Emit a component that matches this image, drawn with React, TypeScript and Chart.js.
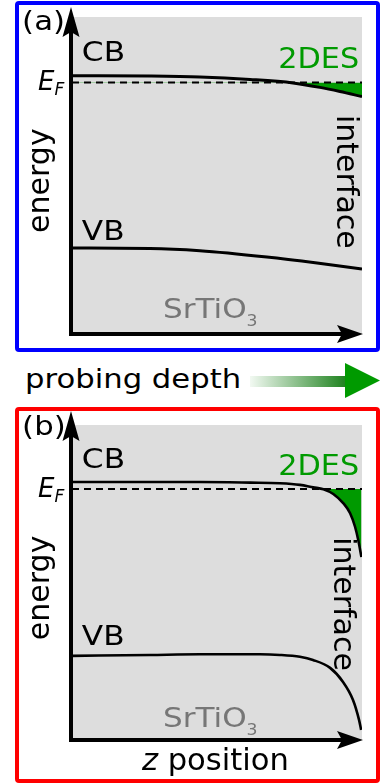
import React, { useEffect, useRef } from 'react';
import { Chart, registerables } from 'chart.js';

Chart.register(...registerables);

const FONT = '"DejaVu Sans", Verdana, sans-serif';
const GREEN = '#009a00';
const PLOT_BG = '#dddddd';
const AXIS_COLOR = '#000000';
const SUBSTRATE_COLOR = '#767676';

// ---------- data: panel (a) ----------
const zCbA = [0, 26.9, 44.1, 61.4, 76.2, 85.5, 92.4, 100];
const eCbA = [81.5, 81.4, 81.1, 80.3, 79.2, 77.8, 76.5, 74.9];
const zVbA = [0, 26.9, 44.1, 67.2, 84.5, 100];
const eVbA = [27.1, 27.0, 26.3, 24.3, 22.4, 20.5];
const eFermiA = 79.3;

// ---------- data: panel (b) ----------
const zCbB = [0, 44.1, 61.4, 71.7, 78.6, 83.2, 86.7, 90.1, 93.6, 95.9, 97.6, 98.7, 99.8];
const eCbB = [81.9, 81.9, 81.7, 81.5, 81.0, 80.2, 79.6, 78.1, 75.1, 72.0, 67.7, 63.5, 58.1];
const zVbB = [0, 26.9, 44.1, 64.8, 71.7, 78.6, 83.1, 89, 93.4, 96.9, 99, 99.7];
const eVbB = [26.7, 27.0, 27.2, 27.2, 27.0, 26.4, 25.4, 22.9, 18.5, 12.7, 6.3, 3.2];
const eFermiB = 79.7;

const zRange = [0, 100];
const eRange = [0, 100];

// ---------- text ----------
const panelTags = ['(a)', '(b)'];
const bandNames = ['CB', 'VB'];
const gasName = '2DES';
const substrate = ['SrTiO', '3'];
const interfaceText = 'interface';
const energyText = 'energy';
const depthText = 'probing depth';

type Run = { t: string; it?: boolean; sub?: boolean };
type Label = {
  runs: Run[]; u: number; v: number; size: number; sx?: number; color?: string;
  rot?: number; align?: 'left' | 'right'; subSize?: number; subDy?: number;
};

function labelsFor(tag: string, v: { tag: number; cb: number; ef: number; gas: number; vb: number; sub: number; intf: [number, number]; en: number }, extra: Label[] = []): Label[] {
  return [
    { runs: [{ t: tag }], u: -17.2, v: v.tag, size: 27, sx: 1.14 },
    { runs: [{ t: bandNames[0] }], u: 3.4, v: v.cb, size: 26, sx: 1.2 },
    { runs: [{ t: 'E', it: true }, { t: 'F', it: true, sub: true }], u: -11.7, v: v.ef, size: 26, subSize: 17, subDy: 5 },
    { runs: [{ t: gasName }], u: 99, v: v.gas, size: 28, sx: 1.08, color: GREEN, align: 'right' },
    { runs: [{ t: bandNames[1] }], u: 3.4, v: v.vb, size: 26, sx: 1.2 },
    { runs: [{ t: substrate[0] }, { t: substrate[1], sub: true }], u: 31.4, v: v.sub, size: 27, sx: 1.15, color: SUBSTRATE_COLOR, subSize: 15, subDy: 7.5 },
    { runs: [{ t: interfaceText }], u: v.intf[0], v: v.intf[1], size: 30, rot: 90 },
    { runs: [{ t: energyText }], u: -8.1, v: v.en, size: 30, rot: -90 },
    ...extra,
  ];
}

function drawLabel(chart: any, L: Label) {
  const { ctx } = chart;
  const px = chart.scales.x.getPixelForValue(L.u);
  const py = chart.scales.y.getPixelForValue(L.v);
  const font = (r: Run) => `${r.it ? 'italic ' : ''}${r.sub ? (L.subSize ?? L.size * 0.6) : L.size}px ${FONT}`;
  ctx.save();
  ctx.translate(px, py);
  if (L.rot) ctx.rotate((L.rot * Math.PI) / 180);
  ctx.scale(L.sx ?? 1, 1);
  ctx.fillStyle = L.color ?? '#000';
  ctx.textBaseline = 'alphabetic';
  ctx.textAlign = 'left';
  let total = 0;
  for (const r of L.runs) { ctx.font = font(r); total += ctx.measureText(r.t).width; }
  let x = L.align === 'right' ? -total : 0;
  for (const r of L.runs) {
    ctx.font = font(r);
    ctx.fillText(r.t, x, r.sub ? (L.subDy ?? 0) : 0);
    x += ctx.measureText(r.t).width;
  }
  ctx.restore();
}

function makeBandPlugin(labels: Label[], tipGap: number) {
  return {
    id: 'bandDiagram',
    beforeDraw(chart: any) {
      const { ctx, chartArea: a } = chart;
      ctx.save();
      ctx.fillStyle = PLOT_BG;
      ctx.fillRect(a.left, a.top, a.right - a.left, a.bottom - a.top);
      ctx.restore();
    },
    afterDraw(chart: any) {
      const { ctx, chartArea: a } = chart;
      ctx.save();
      ctx.strokeStyle = AXIS_COLOR;
      ctx.fillStyle = AXIS_COLOR;
      ctx.lineWidth = 4;
      const x0 = a.left - 1;
      const y0 = a.bottom;
      const tipY = a.top - tipGap;
      ctx.beginPath(); ctx.moveTo(x0, y0 + 2); ctx.lineTo(x0, tipY + 24); ctx.stroke();
      ctx.beginPath();
      ctx.moveTo(x0, tipY); ctx.lineTo(x0 + 8.5, tipY + 30); ctx.lineTo(x0, tipY + 25); ctx.lineTo(x0 - 8.5, tipY + 30);
      ctx.closePath(); ctx.fill();
      const tipX = a.right + 1;
      ctx.beginPath(); ctx.moveTo(x0 - 2, y0); ctx.lineTo(tipX - 20, y0); ctx.stroke();
      ctx.beginPath();
      ctx.moveTo(tipX, y0); ctx.lineTo(tipX - 26, y0 - 9); ctx.lineTo(tipX - 21, y0); ctx.lineTo(tipX - 26, y0 + 9);
      ctx.closePath(); ctx.fill();
      ctx.restore();
      for (const L of labels) drawLabel(chart, L);
    },
  };
}

const pts = (zs: number[], es: number[]) => zs.map((z, i) => ({ x: z, y: es[i] }));

function buildConfig(zCb: number[], eCb: number[], zVb: number[], eVb: number[], eF: number, lw: number, labels: Label[], tipGap: number, padding: any): any {
  return {
    type: 'line',
    data: {
      datasets: [
        {
          label: 'CB', data: pts(zCb, eCb), borderColor: '#000', borderWidth: lw, pointRadius: 0,
          cubicInterpolationMode: 'monotone',
          fill: { target: 1, above: 'rgba(0,0,0,0)', below: GREEN }, order: 1,
        },
        {
          label: 'EF', data: [{ x: zRange[0], y: eF }, { x: zRange[1], y: eF }], borderColor: '#000', borderWidth: 2,
          borderDash: [7, 5], pointRadius: 0, fill: false, order: 0,
        },
        {
          label: 'VB', data: pts(zVb, eVb), borderColor: '#000', borderWidth: lw, pointRadius: 0,
          cubicInterpolationMode: 'monotone', fill: false, order: 1,
        },
      ],
    },
    options: {
      responsive: false,
      animation: false,
      devicePixelRatio: 1,
      events: [],
      layout: { padding },
      scales: {
        x: { type: 'linear', min: zRange[0], max: zRange[1], display: false },
        y: { type: 'linear', min: eRange[0], max: eRange[1], display: false },
      },
      plugins: { legend: { display: false }, tooltip: { enabled: false } },
    },
    plugins: [makeBandPlugin(labels, tipGap)],
  };
}

function BandChart({ top, height, config }: { top: number; height: number; config: () => any }) {
  const ref = useRef<HTMLCanvasElement | null>(null);
  useEffect(() => {
    if (!ref.current) return;
    const chart = new Chart(ref.current, config());
    return () => chart.destroy();
  }, []);
  return (
    <canvas
      ref={ref}
      width={387}
      height={height}
      style={{ position: 'absolute', left: 0, top, width: 387, height }}
    />
  );
}

const labelsA = labelsFor(panelTags[0], { tag: 95.9, cb: 86.1, ef: 77.0, gas: 83.9, vb: 29.7, sub: 5.0, intf: [91.4, 69.1], en: 31.9 });
const labelsB = labelsFor(panelTags[1], { tag: 96.8, cb: 86.3, ef: 77.1, gas: 84.1, vb: 30.2, sub: 4.1, intf: [90.3, 64.4], en: 31.7 }, [
  { runs: [{ t: 'z', it: true }, { t: ' position' }], u: 24.1, v: -9.5, size: 30, sx: 1.02 },
]);

export default function App() {
  return (
    <div style={{ position: 'absolute', left: 0, top: 0, width: 387, height: 783, overflow: 'hidden', background: '#fff' }}>
      <div style={{ position: 'absolute', left: 15, top: 1, width: 365, height: 351, border: '4px solid #0000ff', borderRadius: 4, boxSizing: 'border-box' }} />
      <BandChart
        top={0}
        height={356}
        config={() => buildConfig(zCbA, eCbA, zVbA, eVbA, eFermiA, 3, labelsA, 10, { left: 72, top: 17, right: 25, bottom: 22 })}
      />
      <div
        style={{
          position: 'absolute', left: 25, top: 366, fontFamily: FONT, fontSize: 26, lineHeight: '26px',
          transform: 'scaleX(1.18)', transformOrigin: 'left top', whiteSpace: 'nowrap', color: '#000',
        }}
      >
        {depthText}
      </div>
      <svg style={{ position: 'absolute', left: 245, top: 358 }} width={142} height={45} viewBox="0 0 142 45">
        <defs>
          <linearGradient id="depthGrad" x1="0" x2="1" y1="0" y2="0">
            <stop offset="0" stopColor="#f2f9f2" />
            <stop offset="1" stopColor="#1e821e" />
          </linearGradient>
        </defs>
        <rect x={5} y={18} width={96} height={11} fill="url(#depthGrad)" />
        <polygon points="100,5 135,22.5 100,40" fill={GREEN} />
      </svg>
      <div style={{ position: 'absolute', left: 15, top: 407, width: 365, height: 376, border: '4px solid #ff0000', borderRadius: 4, boxSizing: 'border-box' }} />
      <BandChart
        top={405}
        height={378}
        config={() => buildConfig(zCbB, eCbB, zVbB, eVbB, eFermiB, 2.6, labelsB, 14, { left: 72, top: 20, right: 25, bottom: 43 })}
      />
    </div>
  );
}
